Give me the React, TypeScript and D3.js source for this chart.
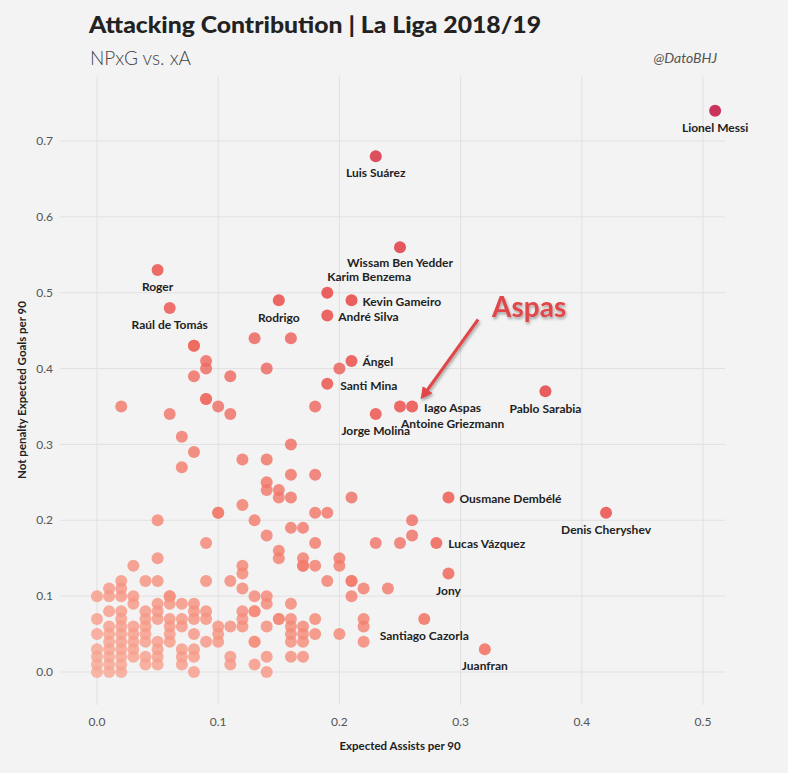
import React from 'react';
import * as d3 from 'd3';

const W = 788;
const H = 773;

// ---------- DATA ----------
const titleText = 'Attacking Contribution | La Liga 2018/19';
const subtitleText = 'NPxG vs. xA';
const creditText = '@DatoBHJ';
const xAxisTitle = 'Expected Assists per 90';
const yAxisTitle = 'Not penalty Expected Goals per 90';

const xTicks = [0, 0.1, 0.2, 0.3, 0.4, 0.5];
const yTicks = [0, 0.1, 0.2, 0.3, 0.4, 0.5, 0.6, 0.7];

// labelled players
const labeledNames = [
  'Lionel Messi', 'Luis Suárez', 'Wissam Ben Yedder', 'Karim Benzema', 'Kevin Gameiro',
  'André Silva', 'Roger', 'Raúl de Tomás', 'Rodrigo', 'Ángel', 'Santi Mina',
  'Iago Aspas', 'Antoine Griezmann', 'Jorge Molina', 'Pablo Sarabia', 'Ousmane Dembélé',
  'Denis Cheryshev', 'Lucas Vázquez', 'Jony', 'Santiago Cazorla', 'Juanfran',
];
const labeledXA = [
  0.51, 0.23, 0.25, 0.19, 0.21,
  0.19, 0.05, 0.06, 0.15, 0.21, 0.19,
  0.26, 0.25, 0.23, 0.37, 0.29,
  0.42, 0.28, 0.29, 0.27, 0.32,
];
const labeledNPxG = [
  0.74, 0.68, 0.56, 0.50, 0.49,
  0.47, 0.53, 0.48, 0.49, 0.41, 0.38,
  0.35, 0.35, 0.34, 0.37, 0.23,
  0.21, 0.17, 0.13, 0.07, 0.03,
];

// other players, grouped by xA column
const columnXA = [
  0.00, 0.01, 0.02, 0.03, 0.04, 0.05, 0.06, 0.07, 0.08, 0.09,
  0.10, 0.11, 0.12, 0.13, 0.14, 0.15, 0.16, 0.17, 0.18, 0.19,
  0.20, 0.21, 0.22, 0.23, 0.24, 0.25, 0.26,
];
const columnNPxG = [
  [0.10, 0.07, 0.05, 0.03, 0.02, 0.01, 0.00],
  [0.11, 0.10, 0.08, 0.06, 0.05, 0.04, 0.03, 0.02, 0.01, 0.00],
  [0.35, 0.12, 0.11, 0.10, 0.08, 0.07, 0.06, 0.05, 0.04, 0.03, 0.02, 0.01, 0.00],
  [0.14, 0.10, 0.09, 0.06, 0.05, 0.04, 0.03, 0.02],
  [0.12, 0.08, 0.07, 0.06, 0.05, 0.04, 0.02, 0.01],
  [0.20, 0.15, 0.12, 0.09, 0.08, 0.07, 0.04, 0.03, 0.02, 0.01],
  [0.34, 0.10, 0.10, 0.09, 0.07, 0.06, 0.05, 0.04],
  [0.31, 0.27, 0.09, 0.07, 0.06, 0.03, 0.02, 0.01],
  [0.43, 0.43, 0.39, 0.29, 0.09, 0.08, 0.07, 0.05, 0.03, 0.02, 0.00],
  [0.41, 0.40, 0.36, 0.36, 0.17, 0.12, 0.08, 0.07, 0.04],
  [0.35, 0.21, 0.21, 0.06, 0.05, 0.04],
  [0.39, 0.34, 0.12, 0.06, 0.02, 0.01],
  [0.28, 0.22, 0.14, 0.13, 0.11, 0.08, 0.07, 0.06],
  [0.44, 0.20, 0.10, 0.08, 0.08, 0.04, 0.04, 0.01],
  [0.40, 0.28, 0.25, 0.24, 0.18, 0.10, 0.09, 0.06, 0.02, 0.00],
  [0.24, 0.23, 0.16, 0.15, 0.07, 0.07],
  [0.44, 0.30, 0.26, 0.23, 0.19, 0.09, 0.07, 0.06, 0.05, 0.04, 0.02],
  [0.19, 0.15, 0.14, 0.14, 0.06, 0.05, 0.04, 0.02],
  [0.35, 0.26, 0.21, 0.17, 0.14, 0.07, 0.05],
  [0.21, 0.12],
  [0.40, 0.15, 0.14, 0.05],
  [0.23, 0.12, 0.12, 0.10],
  [0.11, 0.07, 0.06, 0.04],
  [0.17],
  [0.11],
  [0.17],
  [0.20, 0.18],
];

const annotationText = 'Aspas';

// ---------- LAYOUT ----------
type Place = { dx: number; dy: number; anchor: 'start' | 'middle' | 'end' };
const below: Place = { dx: 0, dy: 17, anchor: 'middle' };
const right: Place = { dx: 11, dy: 1, anchor: 'start' };
const labelPlacement: Record<string, Place> = {
  'Lionel Messi': below,
  'Luis Suárez': below,
  'Wissam Ben Yedder': { dx: 0, dy: 16, anchor: 'middle' },
  'Karim Benzema': { dx: 0, dy: -16, anchor: 'start' },
  'Kevin Gameiro': right,
  'André Silva': right,
  'Roger': below,
  'Raúl de Tomás': below,
  'Rodrigo': below,
  'Ángel': right,
  'Santi Mina': { dx: 13, dy: 2, anchor: 'start' },
  'Iago Aspas': { dx: 12, dy: 1, anchor: 'start' },
  'Antoine Griezmann': { dx: 1, dy: 17, anchor: 'start' },
  'Jorge Molina': below,
  'Pablo Sarabia': below,
  'Ousmane Dembélé': right,
  'Denis Cheryshev': below,
  'Lucas Vázquez': { dx: 12, dy: 1, anchor: 'start' },
  'Jony': below,
  'Santiago Cazorla': below,
  'Juanfran': below,
};

const FONT = 'Lato, "Open Sans", "Noto Sans", sans-serif';

export default function App() {
  const x = d3.scaleLinear().domain([0, 0.5]).range([97, 703]);
  const y = d3.scaleLinear().domain([0, 0.7]).range([672, 141]);
  const color = d3
    .scaleLinear<string>()
    .domain([0, 0.3, 0.7, 1.25])
    .range(['#f8a692', '#f37d6c', '#e9504f', '#c71f49'])
    .interpolate(d3.interpolateRgb);

  const others: { xa: number; g: number }[] = [];
  columnXA.forEach((xa, i) => columnNPxG[i].forEach((g) => others.push({ xa, g })));
  const labeled = labeledNames.map((name, i) => ({ name, xa: labeledXA[i], g: labeledNPxG[i] }));

  const plotLeft = 60;
  const plotRight = 725;
  const plotTop = 76;
  const plotBottom = 705;

  const aspasIdx = labeledNames.indexOf('Iago Aspas');
  const ax = x(labeledXA[aspasIdx]);
  const ay = y(labeledNPxG[aspasIdx]);

  return (
    <div style={{ width: W, height: H }}>
      <style>{'body{margin:0;background:#f3f3f3}'}</style>
      <svg width={W} height={H} style={{ display: 'block', background: '#f3f3f3' }} fontFamily={FONT}>
        <defs>
          <filter id="shadow" x="-20%" y="-20%" width="140%" height="160%">
            <feDropShadow dx="1" dy="2" stdDeviation="1.5" floodColor="#000" floodOpacity="0.35" />
          </filter>
          <marker id="arrowhead" viewBox="0 0 10 10" refX="5" refY="5" markerWidth="4" markerHeight="4" orient="auto-start-reverse">
            <path d="M0,0 L10,5 L0,10 z" fill="#e0474a" />
          </marker>
        </defs>
        <rect x={0} y={0} width={W} height={H} fill="#f3f3f3" />

        {/* titles */}
        <text x={89} y={33} fontSize={23} fontWeight={900} fill="#222" textLength={452} lengthAdjust="spacingAndGlyphs">
          {titleText}
        </text>
        <text x={90} y={65} fontSize={19} fontWeight={300} fill="#444">
          {subtitleText}
        </text>
        <text x={717} y={63} fontSize={14} fontStyle="italic" fill="#555" textAnchor="end">
          {creditText}
        </text>

        {/* grid */}
        {yTicks.map((t) => (
          <line key={'hy' + t} x1={plotLeft} x2={plotRight} y1={y(t)} y2={y(t)} stroke="#e1e1e1" strokeWidth={1} />
        ))}
        {xTicks.map((t) => (
          <line key={'vx' + t} x1={x(t)} x2={x(t)} y1={plotTop} y2={plotBottom} stroke="#e1e1e1" strokeWidth={1} />
        ))}

        {/* tick labels */}
        {yTicks.map((t) => (
          <text key={'ty' + t} x={53} y={y(t)} dy="0.35em" textAnchor="end" fontSize={12} fill="#555">
            {d3.format('.1f')(t)}
          </text>
        ))}
        {xTicks.map((t) => (
          <text key={'tx' + t} x={x(t)} y={722} dy="0.35em" textAnchor="middle" fontSize={12} fill="#555">
            {d3.format('.1f')(t)}
          </text>
        ))}

        {/* axis titles */}
        <text x={(x(0) + x(0.5)) / 2} y={746} dy="0.35em" textAnchor="middle" fontSize={11.5} fontWeight={700} fill="#222">
          {xAxisTitle}
        </text>
        <text transform={`translate(22,${390}) rotate(-90)`} dy="0.35em" textAnchor="middle" fontSize={11.5} fontWeight={700} fill="#222">
          {yAxisTitle}
        </text>

        {/* points */}
        {others.map((p, i) => (
          <circle key={'o' + i} cx={x(p.xa)} cy={y(p.g)} r={6} fill={color(p.xa + p.g)} fillOpacity={0.8} />
        ))}
        {labeled.map((p) => (
          <circle key={'l' + p.name} cx={x(p.xa)} cy={y(p.g)} r={6} fill={color(p.xa + p.g)} fillOpacity={0.9} />
        ))}

        {/* labels */}
        {labeled.map((p) => {
          const pl = labelPlacement[p.name] || below;
          return (
            <text
              key={'t' + p.name}
              x={x(p.xa) + pl.dx}
              y={y(p.g) + pl.dy}
              dy="0.35em"
              textAnchor={pl.anchor}
              fontSize={12}
              fontWeight={700}
              fill="#222"
            >
              {p.name}
            </text>
          );
        })}

        {/* annotation */}
        <g filter="url(#shadow)">
          <line x1={ax + 66} y1={ay - 87} x2={ax + 12} y2={ay - 12} stroke="#e0474a" strokeWidth={3} markerEnd="url(#arrowhead)" />
          <text x={ax + 117} y={ay - 99} dy="0.35em" textAnchor="middle" fontSize={28} fontWeight={700} fill="#e0474a">
            {annotationText}
          </text>
        </g>
      </svg>
    </div>
  );
}
